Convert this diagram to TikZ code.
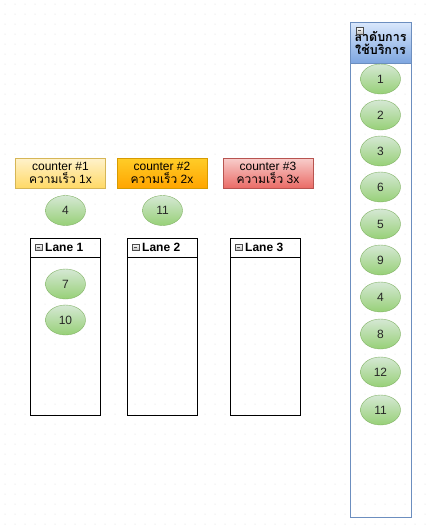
\documentclass[tikz,border=0pt]{standalone}
\usepackage{fontspec}
\setmainfont{Liberation Sans}
\newfontfamily\thai[Script=Thai]{Loma}
\usetikzlibrary{shapes.geometric}
\definecolor{yelTop}{HTML}{FFF2CC}
\definecolor{yelBot}{HTML}{FFD966}
\definecolor{yelLine}{HTML}{D6B656}
\definecolor{orTop}{HTML}{FFCD28}
\definecolor{orBot}{HTML}{FFA500}
\definecolor{orLine}{HTML}{D79B00}
\definecolor{redTop}{HTML}{F8CECC}
\definecolor{redBot}{HTML}{EA6B66}
\definecolor{redLine}{HTML}{B85450}
\definecolor{grTop}{HTML}{D5E8D4}
\definecolor{grBot}{HTML}{97D077}
\definecolor{grLine}{HTML}{82B366}
\definecolor{blTop}{HTML}{DAE8FC}
\definecolor{blBot}{HTML}{7EA6E0}
\definecolor{blLine}{HTML}{6C8EBF}
\definecolor{gridDot}{HTML}{D8D8D8}
\tikzset{
  txt/.style={font=\fontsize{12}{13}\selectfont},
  counterbox/.style={draw, txt, minimum width=90pt, minimum height=30pt, align=center, inner sep=0pt},
  bubble/.style={ellipse, draw=grLine, top color=grTop, bottom color=grBot, minimum width=40pt, minimum height=30pt, inner sep=0pt, txt, text=black!85},
  lanebox/.style={draw, line width=0.9pt, minimum width=70pt, minimum height=177pt, inner sep=0pt},
  lanetitle/.style={font=\bfseries\fontsize{12}{13}\selectfont, anchor=west, inner sep=0pt},
  collapse/.style={draw=black!70, top color=white, bottom color=black!25, minimum size=6.5pt, inner sep=0pt, line width=0.4pt, path picture={\draw[line width=0.6pt] ([xshift=1.5pt]path picture bounding box.west) -- ([xshift=-1.5pt]path picture bounding box.east);}},
}
\begin{document}
\begin{tikzpicture}[x=1pt,y=-1pt]
\useasboundingbox (0,0) rectangle (431,531);
\fill[white] (0,0) rectangle (431,531);
\foreach \i in {0,...,42} {\foreach \j in {0,...,52} {\fill[gridDot] (\i*10+5,\j*10+4) circle[radius=0.5pt];}}

% counters
\node[counterbox, draw=yelLine, top color=yelTop, bottom color=yelBot] (c1) at (60.5,173) {counter \#1\\{\thai ความเร็ว} 1x};
\node[counterbox, draw=orLine, top color=orTop, bottom color=orBot] (c2) at (162,173) {counter \#2\\{\thai ความเร็ว} 2x};
\node[counterbox, draw=redLine, top color=redTop, bottom color=redBot] (c3) at (268,173) {counter \#3\\{\thai ความเร็ว} 3x};

\node[bubble] (b4) at (65.5,210.5) {4};
\node[bubble] (b11a) at (162.5,210.5) {11};

% lanes
\node[lanebox] (l1) at (65.5,326.5) {};
\node[lanebox] (l2) at (162.5,326.5) {};
\node[lanebox] (l3) at (265.5,326.5) {};
\foreach \l/\t in {l1/Lane 1,l2/Lane 2,l3/Lane 3} {
  \draw[line width=0.9pt] ([yshift=-20pt]\l.north west) -- ([yshift=-20pt]\l.north east);
  \node[collapse] (\l i) at ([xshift=8.5pt,yshift=-9.5pt]\l.north west) {};
  \node[lanetitle] (\l t) at ([xshift=3pt]\l i.east) {\t};
}

\node[bubble] (b7) at (65.5,284) {7};
\node[bubble] (b10) at (65.5,320) {10};

% queue container
\node[draw=blLine, line width=0.6pt, minimum width=61pt, minimum height=495pt, inner sep=0pt] (q) at (380.5,269.5) {};
\node[draw=blLine, line width=0.6pt, top color=blTop, bottom color=blBot, minimum width=61pt, minimum height=41pt, inner sep=0pt, anchor=north, align=center, font=\thai\bfseries\fontsize{12.5}{13}\selectfont] (qh) at (q.north) {ลำดับการ\\ใช้บริการ};
\node[collapse] (qi) at (359.5,30.5) {};

\foreach \v/\y [count=\k] in {1/79,2/115,3/151,6/187,5/224,9/260,4/297,8/334,12/372,11/410} {
  \node[bubble] (r\k) at (380.5,\y) {\v};
}
\end{tikzpicture}
\end{document}
